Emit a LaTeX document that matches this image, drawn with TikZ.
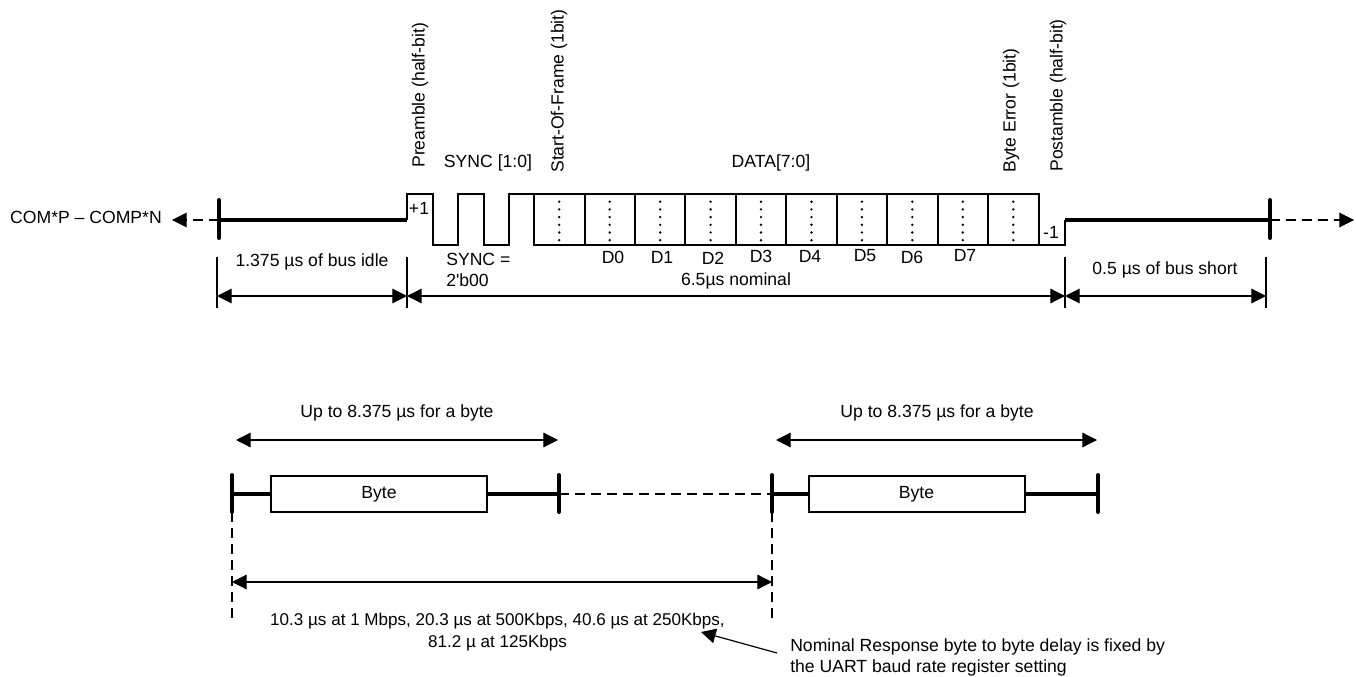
\documentclass[tikz,border=0pt]{standalone}
\usepackage{fontspec}
\setmainfont{Liberation Sans}
\newfontfamily\plainf{Liberation Sans}
\usetikzlibrary{arrows.meta}
\tikzset{
  wave/.style={line width=1.5pt,line join=miter},
  thick line/.style={line width=3pt},
  tick/.style={line width=3pt,line cap=round},
  thin line/.style={line width=0.9pt},
  tip/.style={-{Triangle[length=11pt,width=11pt]}},
  dbl/.style={thin line,{Triangle[length=11pt,width=11pt]}-{Triangle[length=11pt,width=11pt]}},
  ddash/.style={line width=0.8pt,dash pattern=on 7.5pt off 4.5pt},
  lbl/.style={font=\fontsize{13.2}{15}\selectfont,inner sep=0pt,align=center},
  vlbl/.style={lbl,rotate=90,anchor=west},
  bytebox/.style={draw,line width=1.5pt,fill=white,inner sep=0pt,font=\fontsize{13.2}{15}\selectfont}
}
\begin{document}
\begin{tikzpicture}[x=0.75pt,y=-0.75pt]
\useasboundingbox (0,0) rectangle (1356,677);
% upper waveform
\foreach \n/\x/\y in {tl/219/200,bl/219/238,tr/1270/200,br/1270/238}{\coordinate (\n) at (\x,\y);}
\coordinate (idleL) at (219,220);
\coordinate (riseA) at (407,220);
\coordinate (riseB) at (1065,220);
\coordinate (idleR) at (1270,220);
\coordinate (tipL) at (172,220);
\coordinate (tipR) at (1354,220);
\draw[ddash,tip] (idleL) -- (tipL);
\draw[ddash,tip] (idleR) -- (tipR);
\draw[thick line] (idleL) -- (riseA);
\draw[thick line] (riseB) -- (idleR);
\draw[tick] (tl) -- (bl);
\draw[tick] (tr) -- (br);
\draw[wave] (riseA) -- (407,194) -- (433,194) -- (433,245) -- (458,245) -- (458,194) -- (484,194) -- (484,245) -- (509,245) -- (509,194) -- (1039,194) -- (1039,245) -- (1065,245) -- (riseB);
\draw[wave] (534,194) -- (534,245) -- (1039,245);
\foreach \x in {584.5,635,685.4,735.8,786.3,836.7,887,937.6,988}{\draw[wave] (\x,194) -- (\x,245);}
\foreach \x in {559.2,609.7,660.2,710.6,761,811.5,861.9,912.3,962.8,1013.3}{
  \foreach \y in {201.7,209.4,217.1,224.8,232.5,240.2}{\fill (\x,\y) circle (1pt);}}
\node[lbl] (plus) at (419,208) {+1};
\node[lbl] (minus) at (1051,232) {-1};
% upper labels
\node[vlbl] (pre) at (420,168) {Preamble (half-bit)};
\node[vlbl] (sof) at (559,173) {Start-Of-Frame (1bit)};
\node[vlbl] (berr) at (1011,173) {Byte Error (1bit)};
\node[vlbl] (post) at (1058,172) {Postamble (half-bit)};
\node[lbl] (sync) at (488,163) {SYNC [1:0]};
\node[lbl] (data) at (771,163) {DATA[7:0]};
\node[lbl] (com) at (86,217) {COM*P – COMP*N};
\node[lbl,anchor=west] (syncv) at (446,259) {SYNC =};
\node[lbl,anchor=west] (syncb) at (446,280) {{\plainf 2'b00}};
\foreach \n/\t/\x/\y in {d0/D0/613/257,d1/D1/662/257,d2/D2/713/258,d3/D3/761/256,d4/D4/810/256,d5/D5/865/256,d6/D6/912/257,d7/D7/965/255}{\node[lbl] (\n) at (\x,\y) {\t};}
% dimensions
\foreach \n/\x in {a/217,b/407,c/1065,e/1266}{
  \coordinate (\n t) at (\x,257); \coordinate (\n b) at (\x,308); \coordinate (\n m) at (\x,296);
  \draw[thin line,line width=1pt] (\n t) -- (\n b);}
\draw[dbl] (am) -- (bm);
\draw[dbl] (bm) -- (cm);
\draw[dbl] (cm) -- (em);
\node[lbl] (idle) at (312,262) {1.375 µs of bus idle};
\node[lbl] (nom) at (736,281) {6.5µs nominal};
\node[lbl] (short) at (1165,270) {0.5 µs of bus short};
% lower
\foreach \n/\l/\r in {p/232/559,q/772/1098}{
  \coordinate (\n L) at (\l,494); \coordinate (\n R) at (\r,494);
  \coordinate (\n LT) at (\l,475); \coordinate (\n LB) at (\l,512);
  \coordinate (\n RT) at (\r,475); \coordinate (\n RB) at (\r,512);
  \draw[thick line] (\n L) -- (\n R);
  \draw[tick] (\n LT) -- (\n LB);
  \draw[tick] (\n RT) -- (\n RB);
}
\node[bytebox,minimum width=162pt,minimum height=27pt] (b1) at (379,494) {Byte};
\node[bytebox,minimum width=162pt,minimum height=27pt] (b2) at (916.5,494) {Byte};
\draw[ddash] (pR) -- (qL);
\coordinate (u1a) at (236,440); \coordinate (u1b) at (558,440);
\coordinate (u2a) at (776,440); \coordinate (u2b) at (1097,440);
\draw[dbl] (u1a) -- (u1b);
\draw[dbl] (u2a) -- (u2b);
\node[lbl] (t1) at (397,413) {Up to 8.375 µs for a byte};
\node[lbl] (t2) at (937,413) {Up to 8.375 µs for a byte};
\coordinate (v1b) at (232,621); \coordinate (v2b) at (772,621);
\draw[ddash] (pLB) -- (v1b);
\draw[ddash] (qLB) -- (v2b);
\coordinate (w1) at (232,582); \coordinate (w2) at (772,582);
\draw[dbl] (w1) -- (w2);
\node[lbl,font=\fontsize{12.8}{15}\selectfont] (rates) at (497.5,632) {10.3 µs at 1 Mbps, 20.3 µs at 500Kbps, 40.6 µs at 250Kbps,\\[1pt]81.2 µ at 125Kbps};
\node[lbl,align=left,anchor=north west] (note) at (790,638) {Nominal Response byte to byte delay is fixed by\\[1pt]the UART baud rate register setting};
\coordinate (ntail) at (777,653); \coordinate (ntip) at (701,632);
\draw[thin line,tip] (ntail) -- (ntip);
\end{tikzpicture}
\end{document}
